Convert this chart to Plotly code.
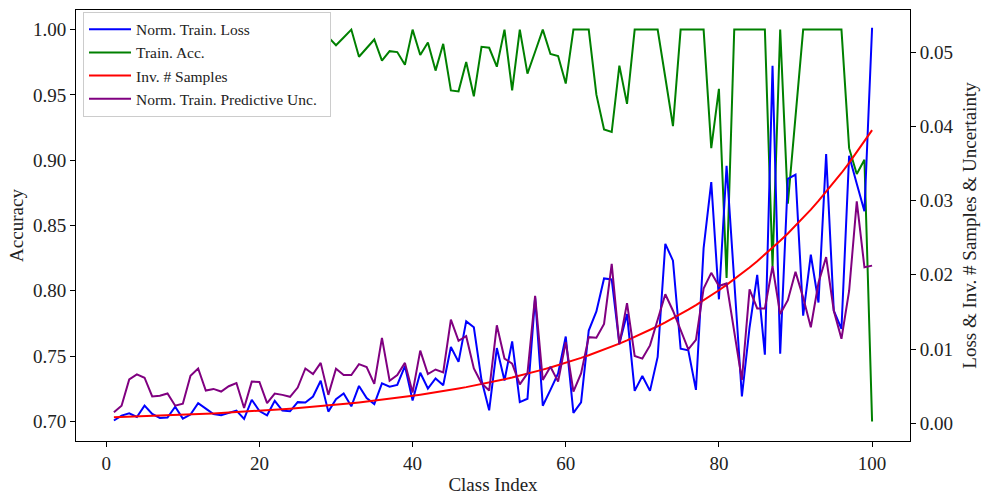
import plotly.graph_objects as go

classes = list(range(1, 101))

train_loss = [
    0.00036, 0.00102, 0.00133, 0.00084, 0.00236, 0.00124, 0.00071, 0.00076, 0.00222, 0.00062,
    0.00116, 0.00271, 0.00196, 0.00124, 0.00107, 0.00142, 0.00169, 0.00058, 0.00316, 0.00164,
    0.00107, 0.00302, 0.00169, 0.00160, 0.00284, 0.00280, 0.00360, 0.00573, 0.00156, 0.00324,
    0.00400, 0.00227, 0.00502, 0.00338, 0.00258, 0.00538, 0.00493, 0.00516, 0.00769, 0.00307,
    0.00680, 0.00467, 0.00604, 0.00511, 0.01027, 0.00827, 0.01373, 0.01293, 0.00582, 0.00173,
    0.01013, 0.00575, 0.01102, 0.00284, 0.00329, 0.01693, 0.00236, 0.00449, 0.00671, 0.01169,
    0.00138, 0.00280, 0.01249, 0.01507, 0.01951, 0.01938, 0.01071, 0.01471, 0.00436, 0.00636,
    0.00436, 0.00893, 0.02418, 0.02191, 0.01004, 0.00982, 0.00449, 0.02360, 0.03250, 0.01670,
    0.03470, 0.01920, 0.00360, 0.01290, 0.02000, 0.00924, 0.04818, 0.00938, 0.03293, 0.03351,
    0.01449, 0.02271, 0.01627, 0.03627, 0.01516, 0.01271, 0.03604, 0.03227, 0.02858, 0.05330,
]

train_acc = [
    1.0, 1.0, 1.0, 1.0, 1.0, 1.0, 1.0, 1.0, 1.0, 1.0,
    1.0, 1.0, 1.0, 1.0, 1.0, 1.0, 1.0, 1.0, 1.0, 1.0,
    1.0, 1.0, 1.0, 1.0, 1.0, 1.0, 1.0, 1.0, 0.9942, 0.9880,
    0.9940, 1.0, 0.9792, 0.9858, 0.9924, 0.9762, 0.9835, 0.9828, 0.9731, 1.0,
    0.9805, 0.9901, 0.9686, 0.9891, 0.9534, 0.9527, 0.9752, 0.9489, 0.9868, 0.9861,
    0.9716, 1.0, 0.9534, 1.0, 0.9663, 0.9830, 1.0, 0.9813, 0.9797, 0.9587,
    1.0, 1.0, 1.0, 0.9502, 0.9236, 0.9216, 0.9724, 0.9431, 1.0, 1.0,
    1.0, 1.0, 0.9633, 0.9261, 1.0, 1.0, 1.0, 1.0, 0.9092, 0.9547,
    0.8098, 1.0, 1.0, 1.0, 1.0, 1.0, 0.8187, 1.0, 0.8667, 0.9335,
    1.0, 1.0, 1.0, 1.0, 1.0, 1.0, 0.9092, 0.8895, 0.9003, 0.70,
]

inv_samples = [
    0.000790, 0.000822, 0.000855, 0.000889, 0.000925, 0.000962, 0.001001, 0.001041, 0.001083, 0.001127,
    0.001173, 0.001220, 0.001269, 0.001320, 0.001374, 0.001429, 0.001487, 0.001547, 0.001609, 0.001674,
    0.001741, 0.001812, 0.001885, 0.001961, 0.002040, 0.002122, 0.002208, 0.002297, 0.002389, 0.002486,
    0.002586, 0.002690, 0.002798, 0.002911, 0.003029, 0.003151, 0.003278, 0.003410, 0.003548, 0.003691,
    0.003838, 0.003993, 0.004154, 0.004321, 0.004496, 0.004677, 0.004865, 0.005061, 0.005266, 0.005478,
    0.005698, 0.005928, 0.006167, 0.006415, 0.006674, 0.006943, 0.007223, 0.007514, 0.007817, 0.008132,
    0.008459, 0.008800, 0.009155, 0.009524, 0.009908, 0.010307, 0.010723, 0.011155, 0.011605, 0.012073,
    0.012558, 0.013065, 0.013591, 0.014139, 0.014709, 0.015302, 0.015919, 0.016561, 0.017228, 0.017923,
    0.018645, 0.019396, 0.020178, 0.020992, 0.021838, 0.022718, 0.023634, 0.024587, 0.025578, 0.026609,
    0.027682, 0.028798, 0.029959, 0.031167, 0.032423, 0.033730, 0.035090, 0.036505, 0.037976, 0.039507,
]

pred_unc = [
    0.00147, 0.00236, 0.00591, 0.00658, 0.00613, 0.00360, 0.00369, 0.00400, 0.00236, 0.00262,
    0.00640, 0.00738, 0.00440, 0.00462, 0.00427, 0.00498, 0.00542, 0.00204, 0.00560, 0.00556,
    0.00271, 0.00400, 0.00382, 0.00356, 0.00480, 0.00738, 0.00662, 0.00813, 0.00382, 0.00733,
    0.00649, 0.00649, 0.00796, 0.00756, 0.00529, 0.01151, 0.00573, 0.00649, 0.00813, 0.00413,
    0.00978, 0.00662, 0.00724, 0.00684, 0.01396, 0.01111, 0.01173, 0.00738, 0.00538, 0.00440,
    0.01320, 0.00871, 0.00804, 0.00524, 0.00671, 0.01716, 0.00582, 0.00760, 0.00560, 0.01093,
    0.00427, 0.00671, 0.01160, 0.01151, 0.01338, 0.02147, 0.01062, 0.01618, 0.00907, 0.00871,
    0.01049, 0.01404, 0.01738, 0.01516, 0.01249, 0.00996, 0.01124, 0.01815, 0.02027, 0.01849,
    0.01884, 0.01220, 0.00582, 0.01804, 0.01547, 0.01547, 0.02116, 0.01471, 0.01658, 0.02040,
    0.01693, 0.01293, 0.01893, 0.02240, 0.01516, 0.01138, 0.01782, 0.02991, 0.02102, 0.02124,
]

series_names = ["Norm. Train. Loss", "Train. Acc.", "Inv. # Samples",
                "Norm. Train. Predictive Unc.\u00a0\u00a0"]

x_ticks = [0, 20, 40, 60, 80, 100]
acc_ticks = [0.70, 0.75, 0.80, 0.85, 0.90, 0.95, 1.00]
right_ticks = [0.00, 0.01, 0.02, 0.03, 0.04, 0.05]

FONT = "Liberation Serif"
LW = 2

fig = go.Figure()
fig.add_trace(go.Scatter(x=classes, y=train_loss, name=series_names[0], mode="lines",
                         line=dict(color="blue", width=LW), yaxis="y2"))
fig.add_trace(go.Scatter(x=classes, y=train_acc, name=series_names[1], mode="lines",
                         line=dict(color="green", width=LW), yaxis="y"))
fig.add_trace(go.Scatter(x=classes, y=inv_samples, name=series_names[2], mode="lines",
                         line=dict(color="red", width=LW), yaxis="y2"))
fig.add_trace(go.Scatter(x=classes, y=pred_unc, name=series_names[3], mode="lines",
                         line=dict(color="purple", width=LW), yaxis="y2"))

axis_common = dict(
    showgrid=False, zeroline=False, showline=True, linecolor="black", linewidth=1,
    ticks="outside", ticklen=5, tickwidth=1, tickcolor="black",
    tickfont=dict(family=FONT, size=19, color="#222"),
)

fig.update_layout(
    width=990, height=500,
    margin=dict(l=76, r=80, t=9, b=55),
    paper_bgcolor="white", plot_bgcolor="white",
    font=dict(family=FONT, size=19, color="#222"),
    showlegend=True,
    legend=dict(
        x=0.0084, y=0.996, xanchor="left", yanchor="top",
        bgcolor="white", bordercolor="#cccccc", borderwidth=1,
        itemwidth=42,
        font=dict(family=FONT, size=15.5, color="#222"),
    ),
    xaxis=dict(
        range=[-3.95, 104.95], tickvals=x_ticks, mirror=True,
        title=dict(text="Class Index", font=dict(family=FONT, size=19, color="#222"), standoff=4),
        **axis_common,
    ),
    yaxis=dict(
        range=[0.685, 1.015], tickvals=acc_ticks, ticktext=[f"{v:.2f}" for v in acc_ticks],
        title=dict(text="Accuracy", font=dict(family=FONT, size=19, color="#222"), standoff=4),
        **axis_common,
    ),
    yaxis2=dict(
        range=[-0.0024, 0.0557], tickvals=right_ticks, ticktext=[f"{v:.2f}" for v in right_ticks],
        overlaying="y", side="right",
        title=dict(text="Loss & Inv. # Samples & Uncertainty", font=dict(family=FONT, size=19, color="#222"), standoff=10),
        **axis_common,
    ),
)

fig.write_html("out.html")
